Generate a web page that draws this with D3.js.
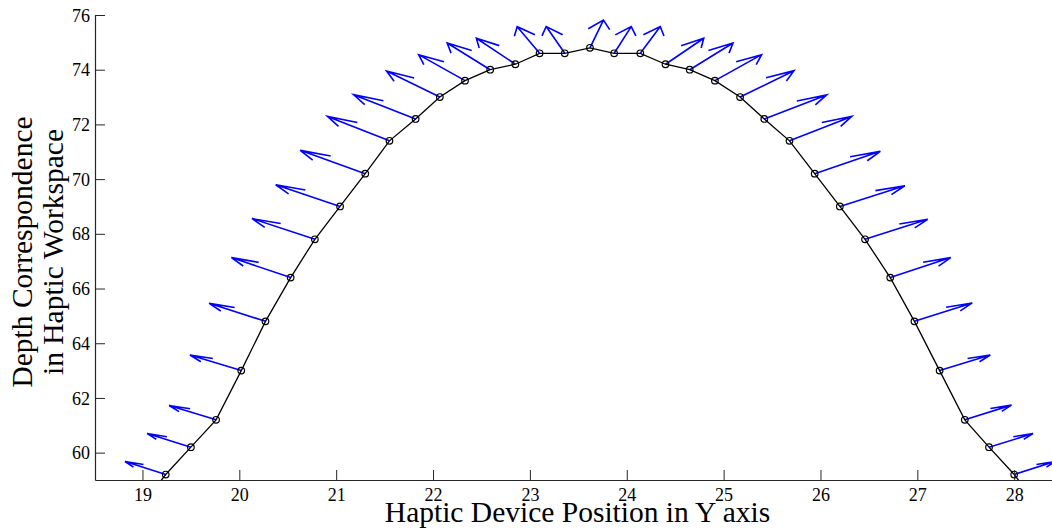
<!DOCTYPE html>
<html>
<head>
<meta charset="utf-8">
<script src="https://cdn.jsdelivr.net/npm/d3@7"></script>
<style>
  html, body { margin: 0; padding: 0; background: #fff; }
  svg { display: block; }
  text { font-family: "Liberation Serif", "Times New Roman", serif; fill: #000; }
</style>
</head>
<body>
<svg id="chart" width="1052" height="531"></svg>
<script>
// Haptic device position (Y axis) for each sample; first and last samples fall outside the axes and are clipped
const positionY = [18.98, 19.24, 19.50, 19.76, 20.02, 20.27, 20.53, 20.78, 21.04, 21.30, 21.55,
  21.82, 22.07, 22.33, 22.59, 22.85, 23.10, 23.36, 23.62, 23.87, 24.14, 24.40, 24.65,
  24.91, 25.17, 25.42, 25.68, 25.94, 26.20, 26.46, 26.72, 26.97, 27.23, 27.49, 27.74, 28.00, 28.26];
// Depth correspondence in haptic workspace
const depth = [58.0, 59.2, 60.2, 61.2, 63.0, 64.8, 66.4, 67.8, 69.0, 70.2, 71.4,
  72.2, 73.0, 73.6, 74.0, 74.2, 74.6, 74.6, 74.8, 74.6, 74.6, 74.2, 74.0,
  73.6, 73.0, 72.2, 71.4, 70.2, 69.0, 67.8, 66.4, 64.8, 63.0, 61.2, 60.2, 59.2, 58.0];
// Quiver (normal vector) components in data units; null = no visible arrow
const arrowU = [null, -0.420, -0.451, -0.485, -0.530, -0.582, -0.612, -0.650, -0.664, -0.671, -0.640,
  -0.640, -0.550, -0.479, -0.444, -0.403, -0.231, -0.192, 0.139, 0.176, 0.206, 0.395, 0.447,
  0.482, 0.557, 0.644, 0.643, 0.678, 0.671, 0.647, 0.625, 0.597, 0.523, 0.482, 0.454, 0.420, null];
const arrowV = [null, 0.475, 0.500, 0.523, 0.570, 0.658, 0.731, 0.757, 0.793, 0.852, 0.892,
  0.885, 0.950, 0.950, 0.976, 0.950, 0.972, 0.980, 1.016, 0.976, 0.976, 0.950, 0.976,
  0.950, 0.965, 0.877, 0.892, 0.815, 0.757, 0.731, 0.731, 0.673, 0.570, 0.537, 0.497, 0.475, null];

const xTicks = [19, 20, 21, 22, 23, 24, 25, 26, 27, 28];
const yTicks = [60, 62, 64, 66, 68, 70, 72, 74, 76];
const xTitle = "Haptic Device Position in Y axis";
const yTitleLines = ["Depth Correspondence", "in Haptic Workspace"];

const svg = d3.select("#chart");
const plotLeft = 95, plotTop = 15, plotBottom = 480;
const serif = "'Liberation Serif', 'Times New Roman', serif";

const x = d3.scaleLinear().domain([18.51, 28.5]).range([plotLeft, plotLeft + 9.99 * 96.86]);
const y = d3.scaleLinear().domain([59, 76]).range([plotBottom, plotTop]);

svg.append("defs").append("clipPath").attr("id", "plotclip")
  .append("rect").attr("x", plotLeft).attr("y", plotTop - 10)
  .attr("width", 1100).attr("height", plotBottom - plotTop + 10);

const plot = svg.append("g").attr("clip-path", "url(#plotclip)");

// quiver arrows (MATLAB style arrowheads computed in data units)
const alpha = 0.33, beta = 0.33;
const arrowPaths = [];
positionY.forEach((px, i) => {
  const u = arrowU[i], v = arrowV[i];
  if (u == null || v == null) return;
  const py = depth[i];
  const tx = px + u, ty = py + v;
  const b1x = tx - alpha * (u + beta * v), b1y = ty - alpha * (v - beta * u);
  const b2x = tx - alpha * (u - beta * v), b2y = ty - alpha * (v + beta * u);
  arrowPaths.push(`M${x(px)},${y(py)}L${x(tx)},${y(ty)}M${x(b1x)},${y(b1y)}L${x(tx)},${y(ty)}L${x(b2x)},${y(b2y)}`);
});
plot.selectAll("path.arrow").data(arrowPaths).enter().append("path")
  .attr("class", "arrow").attr("d", d => d)
  .attr("fill", "none").attr("stroke", "#0000ff").attr("stroke-width", 1.6)
  .attr("stroke-linejoin", "miter").attr("stroke-linecap", "butt");

// black line with circle markers
const pts = positionY.map((p, i) => [p, depth[i]]);
plot.append("path")
  .attr("d", d3.line().x(d => x(d[0])).y(d => y(d[1]))(pts))
  .attr("fill", "none").attr("stroke", "#000").attr("stroke-width", 1.3);
plot.selectAll("circle.m").data(pts).enter().append("circle")
  .attr("class", "m").attr("cx", d => x(d[0])).attr("cy", d => y(d[1])).attr("r", 3.3)
  .attr("fill", "none").attr("stroke", "#000").attr("stroke-width", 1.2);

// axes
const axisColor = "#262626";
const xAxis = svg.append("g").attr("transform", `translate(0,${plotBottom})`)
  .call(d3.axisBottom(x).tickValues(xTicks).tickSizeInner(-10).tickSizeOuter(0).tickFormat(d3.format("d")))
  .attr("font-family", serif).attr("font-size", 18);
xAxis.select(".domain").attr("stroke", axisColor).attr("stroke-width", 1.2);
xAxis.selectAll(".tick line").attr("stroke", axisColor).attr("stroke-width", 1);
xAxis.selectAll(".tick text").attr("y", 0).attr("dy", 20.7)
  .style("font-family", serif).style("font-size", "18px").attr("fill", "#000");

const yAxis = svg.append("g").attr("transform", `translate(${plotLeft},0)`)
  .call(d3.axisLeft(y).tickValues(yTicks).tickSizeInner(-10).tickSizeOuter(0).tickFormat(d3.format("d")))
  .attr("font-family", serif).attr("font-size", 18);
yAxis.select(".domain").attr("stroke", axisColor).attr("stroke-width", 1.2);
yAxis.selectAll(".tick line").attr("stroke", axisColor).attr("stroke-width", 1);
yAxis.selectAll(".tick text").attr("x", -5).attr("dy", "0.34em")
  .style("font-family", serif).style("font-size", "18px").attr("fill", "#000");

// titles
svg.append("text").attr("x", 577.5).attr("y", 522).attr("text-anchor", "middle")
  .style("font-family", serif).style("font-size", "29.5px").text(xTitle);

const yBaselines = [31.7, 62.7];
yTitleLines.forEach((t, i) => {
  svg.append("text")
    .attr("transform", `translate(${yBaselines[i]},252) rotate(-90)`)
    .attr("text-anchor", "middle").style("font-family", serif).style("font-size", "29.5px").text(t);
});
</script>
</body>
</html>
